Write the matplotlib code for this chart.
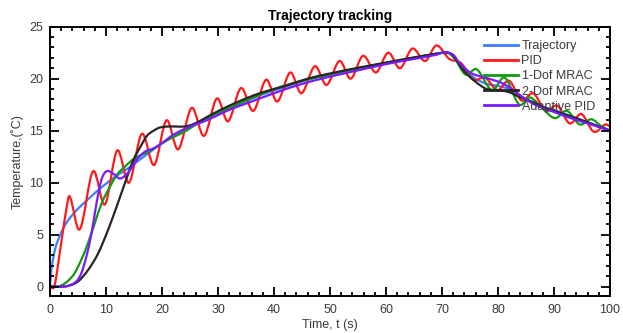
import numpy as np
import matplotlib
matplotlib.use("Agg")
import matplotlib.pyplot as plt
from matplotlib.path import Path
from matplotlib.patches import PathPatch
from matplotlib.lines import Line2D
from matplotlib.ticker import MultipleLocator

plt.rcParams['font.family'] = ['Liberation Sans', 'DejaVu Sans']

# ---------------- data ----------------
traj_t = [0, 0.2, 0.5, 1, 2, 3, 4, 5, 6, 8, 10, 12, 14, 16, 18, 20, 23, 26, 30, 34, 38, 42, 46, 50,
          55, 60, 65, 69, 71, 72, 74, 76, 78, 80, 82, 84, 86, 88, 90, 92, 94, 96, 98, 100]
traj_y = [0, 1.4, 2.5, 3.8, 5.2, 6.2, 6.9, 7.5, 8.0, 9.0, 9.9, 10.7, 11.4, 12.2, 13.0, 13.8, 14.8, 15.7,
          16.7, 17.6, 18.5, 19.2, 19.9, 20.4, 21.0, 21.5, 22.0, 22.4, 22.5, 22.2, 20.9, 20.0, 19.5,
          19.3, 19.0, 18.3, 17.8, 17.3, 17.0, 16.6, 16.2, 15.8, 15.4, 15.0]

pid_t = [0, 0.8, 2.0, 2.9, 3.5, 5.3, 7.7, 9.8, 12.0, 14.1, 16.4, 18.6, 20.8, 22.9, 25.3, 27.5,
         29.8, 31.8, 34.1, 36.3, 38.6, 40.6, 42.9, 44.9, 47.3, 49.4, 51.7, 53.7, 55.9, 58.2, 60.4,
         62.5, 64.7, 67.0, 69.0, 71.3, 73.4, 75.6, 77.7, 79.9, 82.0, 84.2, 86.3, 88.5, 90.6, 92.8,
         94.9, 97.1, 99.2, 100]
pid_y = [0, 0.1, 4.2, 7.4, 8.7, 5.5, 11.1, 7.9, 13.1, 10.0, 14.7, 11.7, 16.0, 13.2, 17.2, 14.5,
         18.1, 15.9, 19.1, 16.9, 19.9, 17.8, 20.6, 18.6, 21.2, 19.4, 21.7, 20.0, 22.2, 20.6, 22.5,
         21.0, 22.9, 21.7, 23.2, 21.9, 21.5, 19.9, 20.1, 18.9, 19.8, 17.9, 18.6, 16.9, 17.4, 15.7,
         16.6, 14.9, 15.6, 15.4]

mrac1_t = [0, 1.5, 2.6, 3.5, 4.4, 5.6, 6.8, 8.0, 9.2, 10.7, 12.0, 13.5, 15, 18, 21, 24, 27, 30, 35,
           40, 45, 50, 55, 60, 65, 69, 71, 72.3, 74.2, 76.2, 78.9, 81.2, 83.8, 85.7, 88.0, 90.2,
           92.3, 94.6, 96.7, 98.5, 100]
mrac1_y = [0, 0, 0.3, 0.7, 1.3, 2.6, 4.2, 6.1, 8.0, 9.6, 10.8, 11.6, 12.3, 13.1, 14.1, 14.9, 15.9,
           16.7, 17.9, 19.0, 19.8, 20.4, 21.0, 21.5, 22.0, 22.4, 22.5, 21.9, 20.4, 20.9, 18.9, 20.1,
           17.5, 18.2, 17.1, 16.2, 16.9, 15.6, 16.1, 15.4, 15.0]

mrac2_t = [0, 3, 5, 6.8, 8.6, 10.4, 12.1, 13.6, 14.9, 16.2, 17.3, 18.5, 19.6, 21, 22.6, 24, 25.5,
           27, 29, 32, 35, 38, 42, 46, 50, 55, 60, 65, 69, 71, 72, 74, 76, 78, 80, 82, 84, 86, 88,
           90, 94, 100]
mrac2_y = [0, 0.05, 0.5, 1.6, 3.2, 5.5, 8.0, 10.3, 12.2, 13.5, 14.5, 15.0, 15.3, 15.4, 15.4, 15.4,
           15.6, 16.0, 16.6, 17.4, 18.1, 18.7, 19.3, 20.0, 20.5, 21.05, 21.55, 22.05, 22.4, 22.5,
           22.2, 20.7, 19.7, 19.0, 18.9, 18.7, 18.2, 17.8, 17.3, 16.9, 16.2, 15.0]

apid_t = [0, 2, 3.2, 4.7, 5.6, 6.5, 7.4, 8.3, 9.2, 10.1, 11.2, 12.5, 14.0, 15.5, 17.0, 18.5, 20,
          22, 25, 28, 32, 36, 40, 45, 50, 55, 60, 65, 69, 70.5, 72, 73, 75, 77, 79, 81, 83, 85,
          87, 90, 93, 96, 100]
apid_y = [0, 0, 0.07, 0.5, 1.3, 2.9, 5.1, 8.0, 10.3, 11.1, 10.9, 10.4, 11.0, 12.2, 13.0, 13.3,
          13.8, 14.6, 15.4, 16.0, 17.0, 17.8, 18.6, 19.5, 20.2, 20.8, 21.4, 21.9, 22.3, 22.55, 22.3,
          21.6, 20.6, 20.2, 19.9, 19.5, 18.8, 18.0, 17.4, 16.8, 16.2, 15.7, 15.0]

labels = ['Trajectory', 'PID', '1-Dof MRAC', '2-Dof MRAC', 'Adaptive PID']
colors = ['#3a7dff', '#ff1a1a', '#139a13', '#262626', '#7a1aff']
series = [(traj_t, traj_y), (pid_t, pid_y), (mrac1_t, mrac1_y), (mrac2_t, mrac2_y), (apid_t, apid_y)]


def smooth_path(t, y):
    """Smooth cubic (Hermite->Bezier) path through the read points."""
    t = np.asarray(t, float)
    y = np.asarray(y, float)
    n = len(t)
    m = np.zeros(n)
    for i in range(n):
        if i == 0:
            m[i] = (y[1] - y[0]) / (t[1] - t[0])
        elif i == n - 1:
            m[i] = (y[-1] - y[-2]) / (t[-1] - t[-2])
        else:
            m[i] = (y[i + 1] - y[i - 1]) / (t[i + 1] - t[i - 1])
    verts = [(t[0], y[0])]
    codes = [Path.MOVETO]
    for i in range(n - 1):
        h = t[i + 1] - t[i]
        verts += [(t[i] + h / 3, y[i] + m[i] * h / 3),
                  (t[i + 1] - h / 3, y[i + 1] - m[i + 1] * h / 3),
                  (t[i + 1], y[i + 1])]
        codes += [Path.CURVE4] * 3
    return Path(verts, codes)


fig = plt.figure(figsize=(6.23, 3.33), dpi=100)
ax = fig.add_axes([50 / 623, 1 - 296 / 333, 560 / 623, (296 - 26.7) / 333])

handles = []
for (t, y), c, lab in zip(series, colors, labels):
    ax.add_patch(PathPatch(smooth_path(t, y), facecolor='none', edgecolor=c, lw=1.6,
                           capstyle='round', joinstyle='round'))
    handles.append(Line2D([], [], color=c, lw=2.0, label=lab))

ax.set_xlim(0, 100)
ax.set_ylim(-0.9, 25)
ax.xaxis.set_major_locator(MultipleLocator(10))
ax.xaxis.set_minor_locator(MultipleLocator(2))
ax.yaxis.set_major_locator(MultipleLocator(5))
ax.yaxis.set_minor_locator(MultipleLocator(1))
ax.tick_params(which='both', direction='in', top=True, right=True, width=1.3,
               colors='black', labelcolor='#3a3a3a', labelsize=9)
ax.tick_params(which='major', length=6.5)
ax.tick_params(which='minor', length=3.2)
ax.tick_params(axis='x', pad=6)
ax.tick_params(axis='y', pad=5)
for s in ax.spines.values():
    s.set_linewidth(1.4)

ax.set_title('Trajectory tracking', fontsize=10, fontweight='bold', pad=5)
ax.set_xlabel('Time, t (s)', fontsize=9, color='#3a3a3a', labelpad=2)
ax.set_ylabel('Temperature,(\u02daC)', fontsize=9, color='#3a3a3a', labelpad=4)

leg = ax.legend(handles=handles, loc='upper left', bbox_to_anchor=(0.775, 0.95),
                frameon=False, fontsize=9, handlelength=2.7, handletextpad=0.3,
                labelspacing=0.25, borderpad=0, borderaxespad=0)
for txt in leg.get_texts():
    txt.set_color('#3a3a3a')

fig.savefig('out.png', dpi=100)
